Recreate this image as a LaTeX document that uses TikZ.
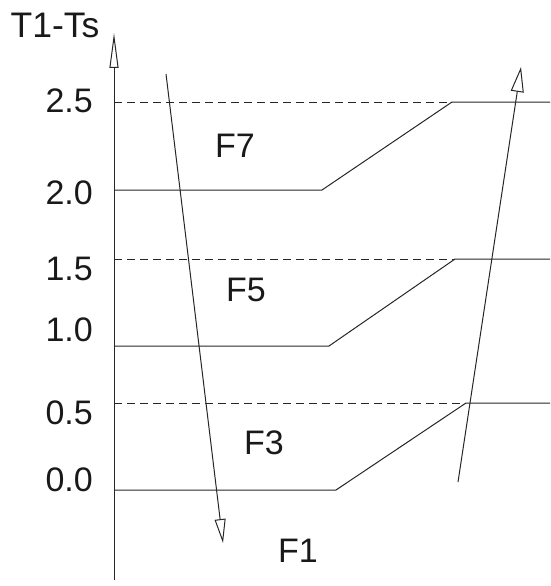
\documentclass[tikz,border=0pt]{standalone}
\usepackage{fontspec}
\setmainfont{Liberation Sans}
\usetikzlibrary{arrows.meta}
\begin{document}
\begin{tikzpicture}[x=1pt,y=-1pt,
  line/.style={line width=1pt,draw=black!85},
  dashline/.style={line,dash pattern=on 8pt off 5pt},
  lbl/.style={inner sep=0pt,font=\fontsize{34}{40}\selectfont,text=black!90},
  tick/.style={lbl,anchor=east}]
\useasboundingbox (0,0) rectangle (550,586);
% axis
\coordinate (ax0) at (114,580);
\coordinate (ax1) at (114,33);
\draw[line,-{Triangle[open,length=35pt,width=9pt]}] (ax0) -- (ax1);
\node[lbl,font=\fontsize{35.5}{40}\selectfont] (ylab) at (55,25) {T1-Ts};
% tick labels
\node[tick] (t25) at (93,101) {2.5};
\node[tick] (t20) at (93,193) {2.0};
\node[tick] (t15) at (93,269) {1.5};
\node[tick] (t10) at (93,330) {1.0};
\node[tick] (t05) at (93,413) {0.5};
\node[tick] (t00) at (93,480) {0.0};
% level coordinates
\coordinate (d25a) at (114,102); \coordinate (d25b) at (452,102); \coordinate (d25c) at (550,102);
\coordinate (s20a) at (114,190); \coordinate (s20b) at (322,190);
\coordinate (d15a) at (114,259); \coordinate (d15b) at (455,259); \coordinate (d15c) at (550,259);
\coordinate (s10a) at (114,346); \coordinate (s10b) at (329,346);
\coordinate (d05a) at (114,403); \coordinate (d05b) at (466,403); \coordinate (d05c) at (550,403);
\coordinate (s00a) at (114,490); \coordinate (s00b) at (336,490);
% dashed levels
\draw[dashline] (d25a) -- (d25b);
\draw[dashline] (d15a) -- (d15b);
\draw[dashline] (d05a) -- (d05b);
% solid levels with ramps
\draw[line] (s20a) -- (s20b) -- (d25b) -- (d25c);
\draw[line] (s10a) -- (s10b) -- (d15b) -- (d15c);
\draw[line] (s00a) -- (s00b) -- (d05b) -- (d05c);
% arrows
\coordinate (dn0) at (166,74);
\coordinate (dn1) at (223,543);
\draw[line,-{Triangle[open,length=24pt,width=11pt]}] (dn0) -- (dn1);
\coordinate (up0) at (458,482);
\coordinate (up1) at (521,67);
\draw[line,-{Triangle[open,length=25pt,width=13pt]}] (up0) -- (up1);
% region labels
\node[lbl] (f7) at (235,146) {F7};
\node[lbl] (f5) at (246,290) {F5};
\node[lbl] (f3) at (264,443) {F3};
\node[lbl] (f1) at (298,551) {F1};
\end{tikzpicture}
\end{document}
